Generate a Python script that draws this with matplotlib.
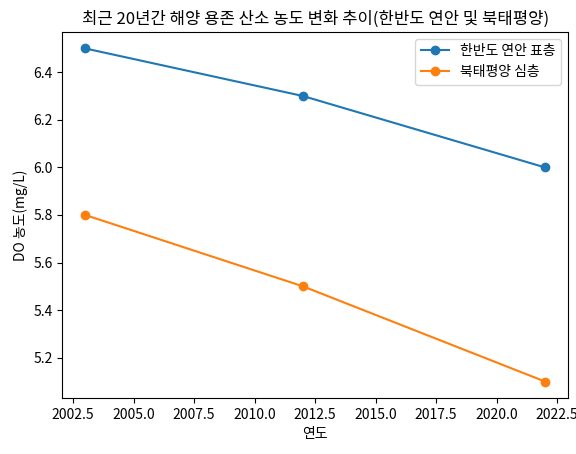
import matplotlib
matplotlib.use("Agg")
import matplotlib.pyplot as plt

plt.rcParams['font.family'] = ['Noto Sans CJK KR', 'DejaVu Sans']
plt.rcParams['axes.unicode_minus'] = False

years = [2003, 2012, 2022]
coastal_surface = [6.5, 6.3, 6.0]
north_pacific_deep = [5.8, 5.5, 5.1]

fig, ax = plt.subplots(figsize=(5.76, 4.54), dpi=100)
ax.plot(years, coastal_surface, marker='o', label='한반도 연안 표층')
ax.plot(years, north_pacific_deep, marker='o', label='북태평양 심층')
ax.set_title('최근 20년간 해양 용존 산소 농도 변화 추이(한반도 연안 및 북태평양)')
ax.set_xlabel('연도')
ax.set_ylabel('DO 농도(mg/L)')
ax.legend()
fig.subplots_adjust(left=0.108, right=0.986, top=0.93, bottom=0.123)
fig.savefig('out.png')
